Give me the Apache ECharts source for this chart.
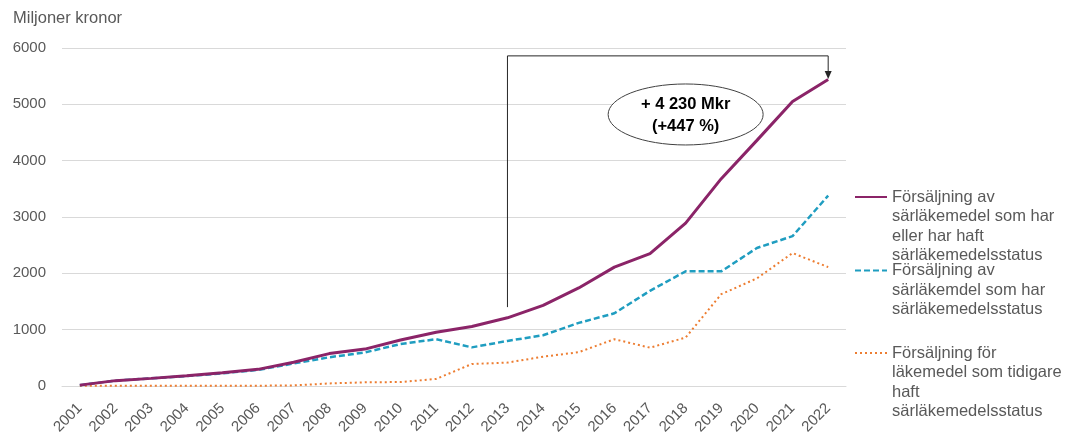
<!DOCTYPE html>
<html>
<head>
<meta charset="utf-8">
<script src="https://cdn.jsdelivr.net/npm/echarts@6/dist/echarts.min.js"></script>
<style>
html,body{margin:0;padding:0;background:#fff;}
#c{width:1067px;height:437px;}
</style>
</head>
<body>
<div id="c"></div>
<script>
var years = ['2001','2002','2003','2004','2005','2006','2007','2008','2009','2010','2011','2012','2013','2014','2015','2016','2017','2018','2019','2020','2021','2022'];
var totalSales = [15,95,135,180,235,295,420,575,655,815,955,1055,1210,1430,1740,2110,2350,2890,3680,4360,5050,5440];
var currentStatus = [15,95,135,175,225,285,400,510,595,745,830,685,800,900,1120,1290,1690,2035,2035,2450,2660,3380];
var formerStatus = [5,5,5,5,5,5,10,45,65,70,125,390,415,520,600,830,680,860,1630,1910,2360,2110];
var yTicks = [0,1000,2000,3000,4000,5000,6000];
var seriesNames = [
  'Försäljning av\nsärläkemedel som har\neller har haft\nsärläkemedelsstatus',
  'Försäljning av\nsärläkemdel som har\nsärläkemedelsstatus',
  'Försäljning för\nläkemedel som tidigare\nhaft\nsärläkemedelsstatus'
];
var annotationText = '+ 4 230 Mkr\n(+447 %)';
var yAxisTitle = 'Miljoner kronor';

var FONT = '"Liberation Sans", Arial, sans-serif';
var LH = 19.5;
var colors = ['#8b2468', '#1f9dc0', '#ed7d31'];

function legendFor(i, centerY) {
  var n = seriesNames[i].split('\n').length;
  var pad = new Array(n).join('\n');
  return {
    data: [{name: seriesNames[i], itemStyle: {opacity: 0}}],
    orient: 'vertical',
    left: 854,
    top: centerY - (2 * n - 1) * LH / 2,
    padding: 0,
    itemWidth: 32,
    itemHeight: 10,
    selectedMode: false,
    formatter: function (name) { return pad + name; },
    textStyle: {fontFamily: FONT, fontSize: 16.5, color: '#595959', lineHeight: LH}
  };
}

var chart = echarts.init(document.getElementById('c'), null, {renderer: 'canvas'});
chart.setOption({
  animation: false,
  title: {
    text: yAxisTitle, left: 13, top: 10, padding: 0,
    textStyle: {fontFamily: FONT, fontSize: 16.5, fontWeight: 'normal', color: '#595959'}
  },
  grid: {left: 62, right: 221, top: 48, bottom: 50, containLabel: false},
  legend: [legendFor(0, 197), legendFor(1, 270.5), legendFor(2, 353)],
  xAxis: {
    type: 'category', data: years, boundaryGap: true,
    axisLine: {lineStyle: {color: '#d9d9d9', width: 1}},
    axisTick: {show: false},
    axisLabel: {rotate: 45, margin: 20, color: '#595959', fontFamily: FONT, fontSize: 15, interval: 0}
  },
  yAxis: {
    type: 'value', min: yTicks[0], max: yTicks[yTicks.length - 1], interval: 1000,
    axisLine: {show: false}, axisTick: {show: false},
    splitLine: {lineStyle: {color: '#d9d9d9', width: 1}},
    axisLabel: {margin: 16, color: '#595959', fontFamily: FONT, fontSize: 15,
                formatter: function (v) { return String(v); }}
  },
  series: [
    {name: seriesNames[0], type: 'line', data: totalSales, symbol: 'none', z: 5,
     lineStyle: {color: colors[0], width: 3}, itemStyle: {color: colors[0]}},
    {name: seriesNames[1], type: 'line', data: currentStatus, symbol: 'none', z: 4,
     lineStyle: {color: colors[1], width: 2.5, type: [6, 3]}, itemStyle: {color: colors[1]}},
    {name: seriesNames[2], type: 'line', data: formerStatus, symbol: 'none', z: 3,
     lineStyle: {color: colors[2], width: 2, type: [2, 3]}, itemStyle: {color: colors[2]}}
  ]
});

function px(cat, val) {
  return chart.convertToPixel({xAxisIndex: 0, yAxisIndex: 0}, [cat, val]);
}
var a = px('2013', 1400), b = px('2013', 5860), c = px('2022', 5860), d = px('2022', 5450);
var ec = px('2018', 4820);
chart.setOption({
  graphic: [
    {type: 'polyline', z: 100, shape: {points: [a, b, c, [c[0], d[1] - 7]]},
     style: {stroke: '#262626', lineWidth: 1, fill: null}},
    {type: 'polygon', z: 100, shape: {points: [[d[0] - 3.5, d[1] - 8], [d[0] + 3.5, d[1] - 8], [d[0], d[1]]]},
     style: {fill: '#262626'}},
    {type: 'ellipse', z: 100, shape: {cx: ec[0], cy: ec[1], rx: 77.5, ry: 30.5},
     style: {fill: '#ffffff', stroke: '#404040', lineWidth: 1}},
    {type: 'text', z: 101, x: ec[0], y: ec[1] + 1,
     style: {text: annotationText, fontFamily: FONT, fontSize: 16.5, fontWeight: 'bold',
             fill: '#000', align: 'center', verticalAlign: 'middle', lineHeight: 21.5}}
  ]
});
</script>
</body>
</html>
